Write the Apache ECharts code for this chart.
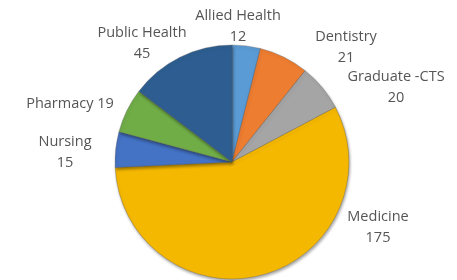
<!DOCTYPE html>
<html>
<head>
<meta charset="utf-8">
<script src="https://cdn.jsdelivr.net/npm/echarts@6/dist/echarts.min.js"></script>
<style>
html, body { margin: 0; padding: 0; background: #fff; }
#main { width: 457px; height: 280px; }
</style>
</head>
<body>
<div id="main"></div>
<script>
// 数据
var categories = ['Allied Health', 'Dentistry', 'Graduate -CTS', 'Medicine', 'Nursing', 'Pharmacy', 'Public Health'];
var counts = [12, 21, 20, 175, 15, 19, 45];
// Pharmacy 的标签是单行的
var singleLine = [false, false, false, false, false, true, false];

var colors = ['#5B9BD5', '#ED7D31', '#A5A5A5', '#F5B800', '#4472C4', '#70AD47', '#2E5E91'];
// 标签中心位置 (px)
var labelPos = [[238, 26], [346, 47], [396, 87], [378, 227], [65, 152], [70, 104], [142, 43]];

var myChart = echarts.init(document.getElementById('main'));

var pieData = categories.map(function(name, i) {
	return {
		name: name,
		value: counts[i],
		itemStyle: { color: colors[i] }
	};
});

myChart.setOption({
	animation: false,
	series: [{
		type: 'pie',
		center: [232, 162],
		radius: 117,
		startAngle: 90,
		clockwise: true,
		data: pieData,
		itemStyle: {
			borderColor: 'rgba(90,90,90,0.55)',
			borderWidth: 0.6,
			shadowBlur: 3,
			shadowOffsetX: 1,
			shadowOffsetY: 2,
			shadowColor: 'rgba(0,0,0,0.35)'
		},
		label: {
			show: true,
			position: 'outside',
			color: '#555',
			fontFamily: 'Open Sans',
			fontSize: 14.5,
			lineHeight: 21,
			overflow: 'none',
			width: 200,
			formatter: function(p) {
				return singleLine[p.dataIndex] ? p.name + ' ' + p.value : p.name + '\n' + p.value;
			}
		},
		labelLine: { show: false },
		labelLayout: function(params) {
			var pos = labelPos[params.dataIndex];
			return {
				x: pos[0],
				y: pos[1],
				align: 'center',
				verticalAlign: 'middle'
			};
		},
		emphasis: { disabled: true }
	}]
});
</script>
</body>
</html>
